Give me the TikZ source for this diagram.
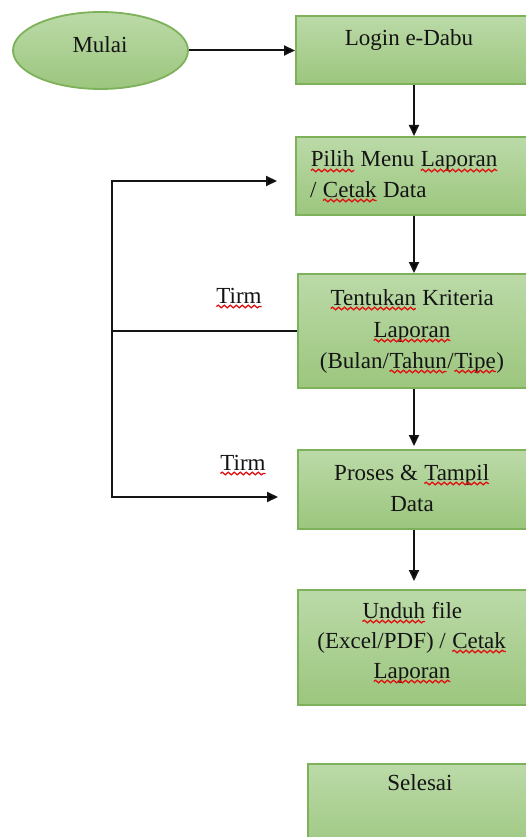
\documentclass[tikz,border=0pt]{standalone}
\usepackage{fontspec}
\setmainfont{Liberation Serif}
\usetikzlibrary{arrows.meta,calc,shapes.geometric,decorations.pathmorphing}

\definecolor{boxtop}{HTML}{BBDAA8}
\definecolor{boxbot}{HTML}{9CC67E}
\definecolor{boxline}{HTML}{7DB25A}
\definecolor{wavered}{HTML}{E01010}
\definecolor{ink}{HTML}{141414}

% red wavy underline for flagged words
\newcommand\flag[1]{\tikz[baseline=(w.base)]{%
  \node[inner sep=0pt, outer sep=0pt, draw=none, fill=none] (w) {#1};%
  \draw[wavered, line width=1.3pt, decorate,
        decoration={snake, amplitude=1.3pt, segment length=6pt}]
    ([yshift=-3.5pt]w.base west) -- ([yshift=-3.5pt]w.base east);}}

\begin{document}
\begin{tikzpicture}[x=1pt,y=-1pt,
  txt/.style={inner sep=0pt, anchor=base, text=ink, font=\fontsize{23}{32}\selectfont},
  stepbox/.style={draw=boxline, line width=1.8pt, top color=boxtop, bottom color=boxbot,
                  anchor=north west, inner sep=0pt, minimum width=231pt},
  startbox/.style={ellipse, draw=boxline, line width=1.8pt, top color=boxtop, bottom color=boxbot,
                   inner sep=0pt, minimum width=175pt, minimum height=77pt},
  link/.style={draw=ink, line width=2pt},
  arr/.style={link, -{Triangle[length=11pt,width=10pt]}}]

\clip (0,0) rectangle (526,837);
\fill[white] (0,0) rectangle (526,837);

% shapes
\node[startbox] (mulai) at (100.5,50.5) {};
\node[stepbox, minimum height=68pt]  (login)   at (295,15)  {};
\node[stepbox, minimum height=78pt]  (pilih)   at (295,136) {};
\node[stepbox, minimum height=114pt] (tent)    at (297,273) {};
\node[stepbox, minimum height=79pt]  (proses)  at (297,449) {};
\node[stepbox, minimum height=115pt] (unduh)   at (297,589) {};
\node[stepbox, minimum height=95pt]  (selesai) at (307,763) {};

% texts
\node[txt] (tmulai) at (100,53) {Mulai};
\node[txt] (tlogin) at (409,46) {Login e-Dabu};
\node[txt, anchor=base west] (tpilih1) at (310,167) {\flag{Pilih} Menu \flag{Laporan}};
\node[txt, anchor=base west] (tpilih2) at (310,197) {/ \flag{Cetak} Data};
\node[txt] (ttent1) at (412,305) {\flag{Tentukan} Kriteria};
\node[txt] (ttent2) at (412,337) {\flag{Laporan}};
\node[txt] (ttent3) at (412,368) {(Bulan/\flag{Tahun}/\flag{Tipe})};
\node[txt] (tpros1) at (412,480) {Proses \& \flag{Tampil}};
\node[txt] (tpros2) at (412,511) {Data};
\node[txt] (tund1) at (412,618) {\flag{Unduh} file};
\node[txt] (tund2) at (412,648) {(Excel/PDF) / \flag{Cetak}};
\node[txt] (tund3) at (412,678) {\flag{Laporan}};
\node[txt] (tsel) at (420,790) {Selesai};
\node[txt] (tirm1) at (239,303) {\flag{Tirm}};
\node[txt] (tirm2) at (243,470) {\flag{Tirm}};

% connectors
\coordinate (col) at (414,0);
\coordinate (lmid) at (112,331);
\coordinate (fbtop) at (277,181);
\coordinate (fbbot) at (278,497);

\draw[arr] (mulai.east) -- (mulai.east -| login.west);
\draw[arr] (login.south -| col) -- (pilih.north -| col);
\draw[arr] (pilih.south -| col) -- (tent.north -| col);
\draw[arr, shorten >=3pt] (tent.south -| col) -- (proses.north -| col);
\draw[arr, shorten >=8pt] (proses.south -| col) -- (unduh.north -| col);

\draw[link] (tent.west) -- (tent.west -| lmid);
\draw[arr] (tent.west -| lmid) |- (fbtop);
\draw[arr] (tent.west -| lmid) |- (fbbot);
\end{tikzpicture}
\end{document}
